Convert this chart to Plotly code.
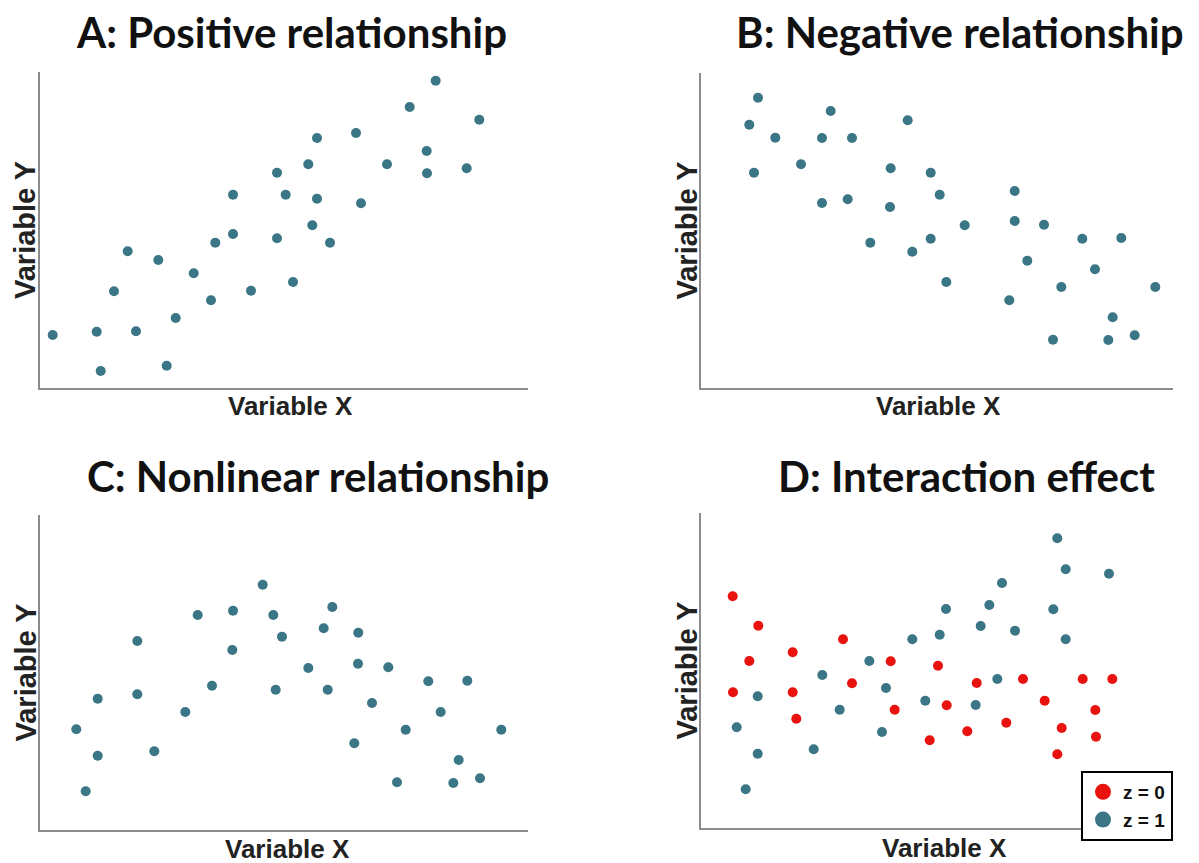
import plotly.graph_objects as go

W, H = 1199, 863

# ---- data (arbitrary units) ----
a_x = [12.7, 56.7, 60.7, 74, 87.7, 96, 118.3, 126.7, 135.7, 153.7, 171, 175.3, 193, 193, 211,
       237, 237, 245.7, 253, 268.3, 277, 277, 272.3, 290, 316, 321, 347, 369.7, 386.7, 387,
       395.7, 426.7, 439.3]
a_y = [53, 56.3, 17, 96.7, 136.7, 56.7, 128, 22.3, 70, 114.7, 87.7, 145.3, 193.3, 154, 97.3,
       215.3, 149.7, 193.3, 106, 223.7, 250, 189.3, 162.7, 145.3, 255, 184.7, 223.7, 281, 237,
       214.7, 307.3, 219.7, 268.3]

b_x = [57, 48.3, 53, 74.3, 100, 121, 121, 129.7, 146.7, 151, 169.3, 189.7, 189, 206.7, 211.3,
       229.7, 238.7, 229.7, 245.3, 263.7, 313.7, 313.7, 308.3, 343, 326.3, 360.3, 352, 381.3,
       394, 420.3, 411.7, 407.3, 433.7, 454.3]
b_y = [290.3, 263.3, 215.3, 250.3, 223.7, 250, 185, 277, 188.7, 250, 145.3, 219.7, 181, 267.7,
       136.3, 215.3, 193.3, 149.3, 106, 162.7, 197, 167, 87.7, 163.3, 127.3, 101, 48.3, 149.3,
       118.7, 150, 70.7, 48, 52.7, 101]

c_x = [36.3, 45.7, 57.7, 57.7, 97.3, 97.3, 114.3, 145.3, 157.7, 172, 193, 192.3, 222.7, 233.3,
       242, 235.7, 268.3, 283.7, 292.3, 287.7, 318.3, 318, 314.3, 332, 348.3, 365.7, 357, 388.3,
       400.7, 427.3, 418.7, 413.3, 440, 461.3]
c_y = [100.7, 38.7, 131.3, 74.3, 189, 135.7, 78.7, 118, 215, 144.3, 219.3, 180, 245.3, 215,
       193.3, 140.3, 162, 201.7, 223, 140.3, 197.3, 166.3, 86.7, 127, 162.7, 100.3, 47.7, 148.7,
       118, 149.3, 70, 47, 51.7, 100.3]

d0_x = [31.7, 57.3, 48.3, 32, 91.7, 91.7, 95.3, 142, 151, 189.7, 193.7, 237, 245.7, 228.7,
        266.3, 275.7, 305.3, 322, 343.7, 360.7, 356.3, 381.7, 394.3, 395, 411.3]
d0_y = [231.7, 202.3, 167, 135.7, 175.7, 135.7, 109.3, 188.7, 144.7, 166.7, 118.3, 162.3, 122.7,
        87.7, 96.7, 145, 105.3, 149, 127.3, 100, 73.7, 149, 118, 91.3, 149]
d1_x = [35.7, 56.7, 56.7, 44.7, 112.7, 121.3, 138.7, 168.3, 185, 181, 211.3, 224.3, 238.7, 245,
        274.7, 279.7, 288.3, 296.3, 301, 314, 352.3, 356.3, 364.7, 364.7, 408]
d1_y = [100.7, 131.7, 74.3, 38.7, 78.7, 153, 118.3, 167, 140, 96, 188.7, 127.3, 193.3, 219, 123,
        202, 223, 149, 245, 197.3, 218.7, 289.7, 258.7, 188.7, 254.3]

titles = ["A: Positive relationship", "B: Negative relationship",
          "C: Nonlinear relationship", "D: Interaction effect"]
x_label = "Variable X"
y_label = "Variable Y"
legend_names = ["z = 0", "z = 1"]

TEAL = "#3b7686"
RED = "#e8120f"
AXIS = "#8c8c8c"

# panel boxes in page pixels: (left, top, right, bottom)
boxes = [(40, 72, 528, 388), (701, 73, 1173, 388), (40, 515, 528, 830), (701, 513, 1173, 828)]
title_pos = [(291, 32), (960, 32), (318, 476), (966, 476)]
xlab_pos = [(290, 406), (938, 406), (287, 849), (944, 848)]


def px(x):
    return x / W


def py(y):
    return 1 - y / H


fig = go.Figure()

series = [(a_x, a_y), (b_x, b_y), (c_x, c_y)]
for i, (sx, sy) in enumerate(series):
    sfx = "" if i == 0 else str(i + 1)
    fig.add_trace(go.Scatter(x=sx, y=sy, mode="markers", xaxis="x" + sfx, yaxis="y" + sfx,
                             marker=dict(color=TEAL, size=10), showlegend=False))

fig.add_trace(go.Scatter(x=d0_x, y=d0_y, mode="markers", xaxis="x4", yaxis="y4",
                         marker=dict(color=RED, size=10), showlegend=False))
fig.add_trace(go.Scatter(x=d1_x, y=d1_y, mode="markers", xaxis="x4", yaxis="y4",
                         marker=dict(color=TEAL, size=10), showlegend=False))
# legend entries with larger symbols
fig.add_trace(go.Scatter(x=[None], y=[None], mode="markers", xaxis="x4", yaxis="y4",
                         marker=dict(color=RED, size=16), name="<b>%s</b>" % legend_names[0]))
fig.add_trace(go.Scatter(x=[None], y=[None], mode="markers", xaxis="x4", yaxis="y4",
                         marker=dict(color=TEAL, size=16), name="<b>%s</b>" % legend_names[1]))

layout = dict(width=W, height=H, margin=dict(l=0, r=0, t=0, b=0),
              paper_bgcolor="white", plot_bgcolor="white",
              showlegend=True,
              legend=dict(x=px(1081), y=py(771), xanchor="left", yanchor="top",
                          bordercolor="black", borderwidth=2, bgcolor="white",
                          font=dict(family="Liberation Sans", size=19, color="#111"),
                          itemsizing="trace", tracegroupgap=0, itemwidth=30))

annotations = []
for i, (l, t, r, b) in enumerate(boxes):
    sfx = "" if i == 0 else str(i + 1)
    axcommon = dict(showgrid=False, zeroline=False, showticklabels=False, ticks="",
                    showline=True, linecolor=AXIS, linewidth=2, mirror=False, fixedrange=True)
    layout["xaxis" + sfx] = dict(domain=[px(l), px(r)], range=[0, r - l],
                                 anchor="y" + sfx, **axcommon)
    layout["yaxis" + sfx] = dict(domain=[py(b), py(t)], range=[0, b - t],
                                 anchor="x" + sfx, **axcommon)
    tx, ty = title_pos[i]
    annotations.append(dict(text="<b>%s</b>" % titles[i], x=px(tx), y=py(ty),
                            xref="paper", yref="paper", showarrow=False,
                            xanchor="center", yanchor="middle",
                            font=dict(family="Lato", size=42, color="#111")))
    lx, ly = xlab_pos[i]
    annotations.append(dict(text="<b>%s</b>" % x_label, x=px(lx), y=py(ly),
                            xref="paper", yref="paper", showarrow=False,
                            xanchor="center", yanchor="middle",
                            font=dict(family="Liberation Sans", size=26, color="#222")))
    annotations.append(dict(text="<b>%s</b>" % y_label, x=px(l - 15), y=py((t + b) / 2),
                            xref="paper", yref="paper", showarrow=False, textangle=-90,
                            xanchor="center", yanchor="middle",
                            font=dict(family="Liberation Sans", size=29, color="#222")))

layout["annotations"] = annotations
fig.update_layout(**layout)
fig.write_html("out.html", config={"displayModeBar": False},
               post_script="document.body.style.margin='0';")
